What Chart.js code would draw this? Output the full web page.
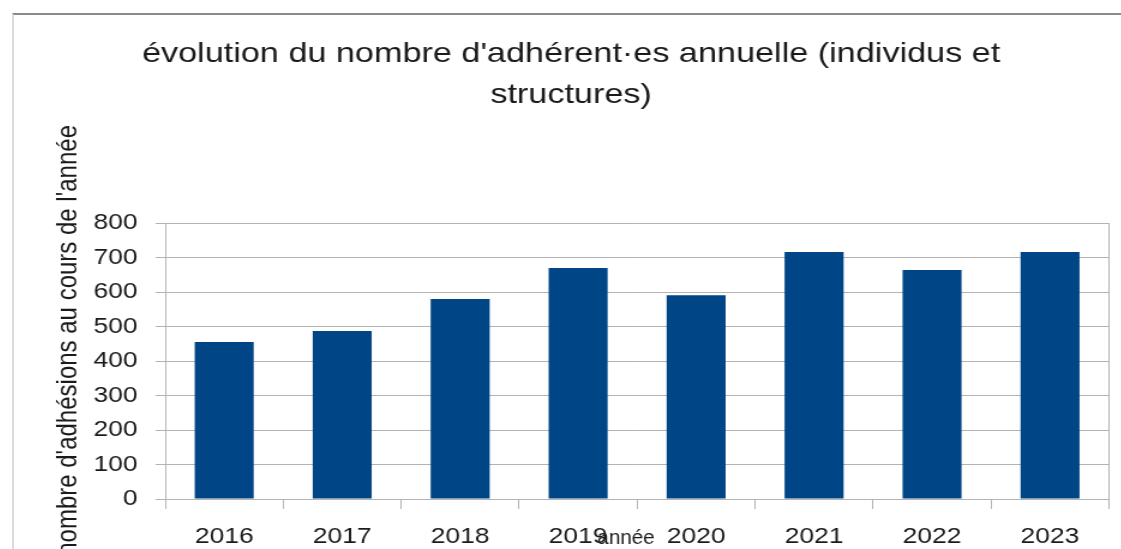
<!DOCTYPE html>
<html>
<head>
<meta charset="utf-8">
<script src="https://cdn.jsdelivr.net/npm/chart.js@4"></script>
<style>
    html, body { margin: 0; padding: 0; background: #fff; overflow: hidden; }
    #frame {
        position: absolute; left: 12px; top: 13px; width: 1109px; height: 600px;
        border-top: 2px solid #8a8a8a; border-left: 2px solid #dcdcdc;
    }
    /* the source picture is stretched sideways, so the chart is drawn narrow and widened */
    #box {
        position: absolute; left: 0; top: 0; width: 922px; height: 580px;
        transform: scaleX(1.2); transform-origin: 0 0;
    }
</style>
</head>
<body>
<div id="frame"><div id="box"><canvas id="adhesions"></canvas></div></div>
<script>
const years = ['2016', '2017', '2018', '2019', '2020', '2021', '2022', '2023'];
const adhesions = [455, 487, 580, 670, 591, 716, 664, 716];
const chartTitle = ["évolution du nombre d'adhérent·es annuelle (individus et", 'structures)'];
const xTitle = 'année';
const yTitle = "nombre d'adhésions au cours de l'année";

const gridColor = '#b3b3b3';
const textColor = '#1a1a1a';
const fontFamily = '"Liberation Sans", Arial, sans-serif';
Chart.defaults.font.family = fontFamily;
Chart.defaults.color = textColor;

// axis titles sit where the original put them (x title overlaps the tick row)
const axisTitles = {
    id: 'axisTitles',
    afterDraw(chart) {
        const ctx = chart.ctx;
        ctx.save();
        ctx.fillStyle = textColor;
        ctx.font = '24px ' + fontFamily;
        ctx.translate(45, 110);
        ctx.rotate(-Math.PI / 2);
        ctx.textAlign = 'right';
        ctx.textBaseline = 'middle';
        ctx.fillText(yTitle, 0, 0);
        ctx.restore();

        // condensed, like the squeezed label in the original
        ctx.save();
        ctx.fillStyle = textColor;
        ctx.font = '21px ' + fontFamily;
        ctx.translate(510, 529);
        ctx.scale(0.82, 1);
        ctx.textAlign = 'center';
        ctx.textBaseline = 'alphabetic';
        ctx.fillText(xTitle, 0, 0);
        ctx.restore();
    }
};

new Chart(document.getElementById('adhesions').getContext('2d'), {
    type: 'bar',
    data: {
        labels: years,
        datasets: [{
            data: adhesions,
            backgroundColor: '#004586',
            barPercentage: 0.5,
            categoryPercentage: 1
        }]
    },
    options: {
        responsive: true,
        maintainAspectRatio: false,
        animation: false,
        layout: { padding: { left: 16, right: 9.5, top: 0, bottom: 36 } },
        plugins: {
            legend: { display: false },
            tooltip: { enabled: false },
            title: {
                display: true,
                text: chartTitle,
                color: textColor,
                font: { size: 28.5, weight: 'normal', lineHeight: 1.44 },
                padding: { top: 19, bottom: 107 }
            }
        },
        scales: {
            x: {
                grid: { offset: true, drawOnChartArea: false, color: gridColor, tickLength: 10 },
                border: { color: gridColor },
                ticks: { font: { size: 22 }, padding: 15, maxRotation: 0 },
                afterFit: scale => { scale.height = 60; }
            },
            y: {
                min: 0,
                max: 800,
                ticks: { stepSize: 100, font: { size: 22 }, padding: 15 },
                grid: { color: gridColor, tickLength: 8 },
                border: { color: gridColor },
                afterFit: scale => { scale.width = 110; }
            },
            y2: {
                position: 'right',
                min: 0,
                max: 800,
                ticks: { display: false },
                grid: { display: false },
                border: { display: true, color: gridColor },
                afterFit: scale => { scale.width = 0; }
            }
        }
    },
    plugins: [axisTitles]
});
</script>
</body>
</html>
